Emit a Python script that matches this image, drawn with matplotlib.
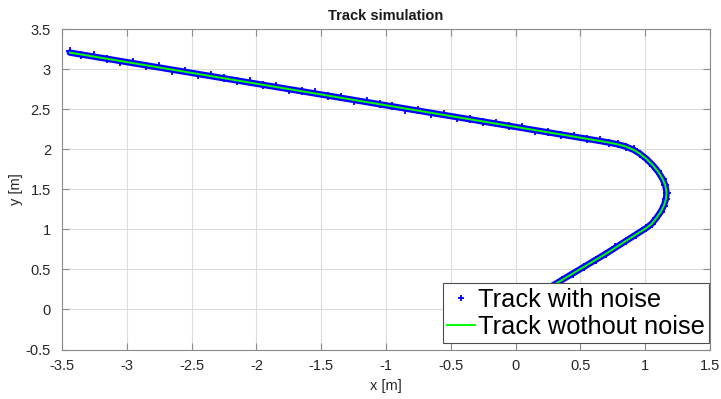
import matplotlib
matplotlib.use("Agg")
import matplotlib.pyplot as plt

# ---- data ----
# noise-free track (waypoints)
true_x = [-3.44, 0.65, 0.72, 0.79, 0.85, 0.91, 0.96, 1.01, 1.06, 1.10, 1.135, 1.155,
          1.165, 1.16, 1.145, 1.12, 1.085, 1.05, 1.01, 0.70, 0.355, 0.0]
true_y = [3.209, 2.105, 2.085, 2.062, 2.035, 1.995, 1.945, 1.88, 1.80, 1.72, 1.63, 1.55,
          1.46, 1.38, 1.30, 1.22, 1.14, 1.07, 1.02, 0.70, 0.366, 0.02]

# noisy track samples
noisy_x = [-3.44, -3.35, -3.25, -3.15, -3.05, -2.95, -2.85, -2.75, -2.65, -2.55,
           -2.45, -2.35, -2.25, -2.15, -2.05, -1.95, -1.85, -1.75, -1.65, -1.55,
           -1.45, -1.35, -1.25, -1.15, -1.05, -0.95, -0.85, -0.75, -0.65, -0.55,
           -0.45, -0.35, -0.25, -0.15, -0.05, 0.05, 0.15, 0.25, 0.35, 0.45,
           0.55, 0.65, 0.72, 0.79, 0.85, 0.91, 0.96, 1.01, 1.06, 1.10,
           1.135, 1.155, 1.165, 1.16, 1.145, 1.12, 1.085, 1.05, 1.01, 0.93,
           0.85, 0.77, 0.70, 0.62, 0.53, 0.445, 0.355, 0.27, 0.18, 0.08, 0.0]
noisy_y = [3.224, 3.175, 3.176, 3.135, 3.092, 3.087, 3.046, 3.039, 2.985, 2.976,
           2.927, 2.927, 2.891, 2.852, 2.848, 2.801, 2.789, 2.740, 2.731, 2.712,
           2.662, 2.653, 2.604, 2.602, 2.561, 2.547, 2.498, 2.489, 2.448, 2.441,
           2.392, 2.379, 2.339, 2.332, 2.288, 2.275, 2.229, 2.219, 2.179, 2.168,
           2.127, 2.111, 2.079, 2.066, 2.031, 1.999, 1.941, 1.884, 1.796, 1.724,
           1.626, 1.553, 1.458, 1.383, 1.297, 1.223, 1.137, 1.073, 1.017, 0.934,
           0.852, 0.778, 0.697, 0.623, 0.527, 0.443, 0.368, 0.278, 0.192, 0.098, 0.022]

x_ticks = [-3.5, -3, -2.5, -2, -1.5, -1, -0.5, 0, 0.5, 1, 1.5]
y_ticks = [-0.5, 0, 0.5, 1, 1.5, 2, 2.5, 3, 3.5]

title = "Track simulation"
xlabel = "x [m]"
ylabel = "y [m]"
label_noisy = "Track with noise"
label_true = "Track wothout noise"

# ---- figure ----
plt.rcParams["font.family"] = ["Liberation Sans", "DejaVu Sans"]

fig = plt.figure(figsize=(7.21, 3.99), dpi=100)
ax = fig.add_axes([62 / 721, 1 - 349.5 / 399, (710 - 62) / 721, (349.5 - 29.3) / 399])

# blue band of the noisy measurements around the track
ax.plot(true_x, true_y, color=(0, 0, 1), lw=4.6, solid_joinstyle="round",
        solid_capstyle="round", zorder=2)
ax.plot(noisy_x, noisy_y, linestyle="none", marker="+", ms=5.5, mew=1.3,
        color=(0, 0, 1), zorder=2, label=label_noisy)
ax.plot(true_x, true_y, color=(0, 1, 0), lw=1.4, zorder=3, label=label_true)

ax.set_xlim(-3.5, 1.5)
ax.set_ylim(-0.5, 3.5)
ax.set_xticks(x_ticks)
ax.set_yticks(y_ticks)
ax.set_xticklabels([f"{v:g}" for v in x_ticks])
ax.set_yticklabels([f"{v:g}" for v in y_ticks])

ax.grid(True, color="#dcdcdc", lw=0.8)
ax.set_axisbelow(True)
for s in ax.spines.values():
    s.set_color("#8a8a8a")
    s.set_linewidth(0.8)
ax.tick_params(direction="in", length=5, width=0.8, color="#8a8a8a",
               top=True, right=True, labelsize=10.5, labelcolor="#262626")
ax.tick_params(axis="x", pad=7)
ax.tick_params(axis="y", pad=8)

ax.set_title(title, fontsize=10.5, fontweight="bold", color="#1a1a1a", pad=7)
ax.set_xlabel(xlabel, fontsize=10.5, color="#262626", labelpad=4)
ax.set_ylabel(ylabel, fontsize=10.5, color="#262626", labelpad=2)

leg = ax.legend(loc="lower right", bbox_to_anchor=(0.999, 0.02), borderaxespad=0,
                prop={"family": ["Liberation Sans", "DejaVu Sans"], "size": 18.3},
                fancybox=False, framealpha=1, edgecolor="#4d4d4d",
                handlelength=1.1, handletextpad=0.1, borderpad=0.18,
                labelspacing=0.1, markerscale=0.7)
leg.get_frame().set_linewidth(0.8)

fig.savefig("out.png", dpi=100)
